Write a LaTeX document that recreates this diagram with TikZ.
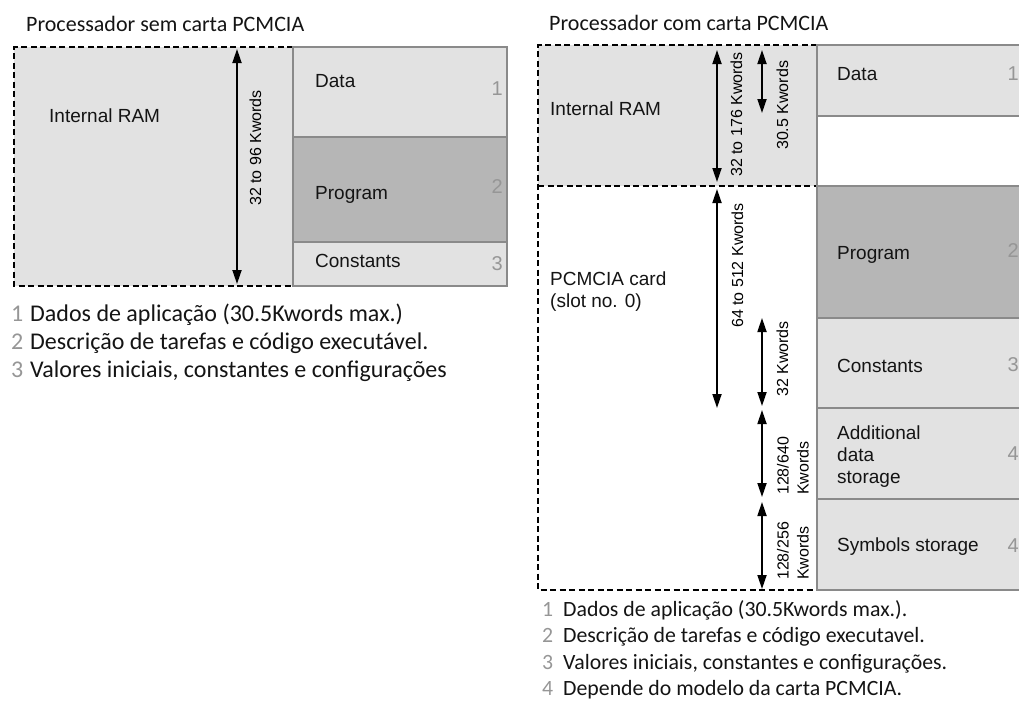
\documentclass[tikz,border=0pt]{standalone}
\usepackage{fontspec}
\setmainfont{Carlito}
\newfontfamily\arialfont{Liberation Sans}
\usetikzlibrary{arrows.meta}

\definecolor{lightmem}{RGB}{226,226,226}
\definecolor{darkmem}{RGB}{182,182,182}
\definecolor{memline}{RGB}{138,138,138}
\definecolor{numgray}{RGB}{150,150,150}
\definecolor{inktext}{RGB}{20,20,20}

\begin{document}
\begin{tikzpicture}[x=1pt, y=-1pt,
            mem/.style={draw=memline, line width=2pt, inner sep=0pt, outer sep=0pt, anchor=north west},
            ramarea/.style={draw=black, line width=1.8pt, dash pattern=on 6pt off 3.5pt},
            boxtext/.style={font=\arialfont\fontsize{19}{22}\selectfont, text=inktext, inner sep=0pt, anchor=base west, align=left},
            boxnum/.style={font=\arialfont\fontsize{20}{24}\selectfont, text=numgray, inner sep=0pt},
            sizetext/.style={font=\arialfont\fontsize{16}{20}\selectfont, inner sep=0pt, rotate=90, align=left},
            sizearrow/.style={{Triangle[width=9pt,length=14pt]}-{Triangle[width=9pt,length=14pt]}, line width=1.8pt},
            heading/.style={font=\fontsize{22}{26}\selectfont, text=inktext, inner sep=0pt, anchor=base west},
            legnum/.style={text=numgray, inner sep=0pt, anchor=base west},
            legtext/.style={text=inktext, inner sep=0pt, anchor=base west}]
            \useasboundingbox (0,0) rectangle (1019,702);
            \clip (0,0) rectangle (1019,702);

            % without PCMCIA card
            \node[heading] (titleA) at (26,31) {Processador sem carta PCMCIA};
            \node[mem, draw=none, fill=lightmem, minimum width=279pt, minimum height=239pt] (ramA) at (14,47) {};
            \draw[ramarea] (ramA.north east) -- (ramA.north west) -- (ramA.south west) -- (ramA.south east);
            \node[mem, fill=lightmem, minimum width=214pt, minimum height=90pt] (dataA) at (293,47) {};
            \node[mem, fill=darkmem, minimum width=214pt, minimum height=105pt] (progA) at (293,137) {};
            \node[mem, fill=lightmem, minimum width=214pt, minimum height=44pt] (constA) at (293,242) {};
            \node[boxtext] (ramtextA) at (49,122) {Internal RAM};
            \node[boxtext] (datatextA) at (315,87) {Data};
            \node[boxtext] (progtextA) at (315,199) {Program};
            \node[boxtext] (consttextA) at (315,267) {Constants};
            \node[boxnum, anchor=base east] (numA1) at (503,95) {1};
            \node[boxnum, anchor=base east] (numA2) at (503,193) {2};
            \node[boxnum, anchor=base east] (numA3) at (503,270) {3};
            \coordinate (sizeA1top) at (237,49);
            \coordinate (sizeA1bot) at (237,284);
            \draw[sizearrow] (sizeA1top) -- (sizeA1bot);
            \node[sizetext, anchor=base west] (sizetextA1) at (261,206) {32 to 96 Kwords};

            \begin{scope}[every node/.append style={font=\fontsize{24}{28}\selectfont}]
            \node[legnum] (legnumA1) at (11,321) {1};
            \node[legtext] (legA1) at (30,321) {Dados de aplicação (30.5Kwords max.)};
            \node[legnum] (legnumA2) at (11,349) {2};
            \node[legtext] (legA2) at (30,349) {Descrição de tarefas e código executável.};
            \node[legnum] (legnumA3) at (11,377) {3};
            \node[legtext] (legA3) at (30,377) {Valores iniciais, constantes e configurações};
            \end{scope}

            % with PCMCIA card
            \node[heading] (titleB) at (549,30) {Processador com carta PCMCIA};
            \node[mem, draw=none, fill=lightmem, minimum width=279pt, minimum height=141pt] (ramB) at (538,45) {};
            \node[mem, draw=none, fill=white, minimum width=279pt, minimum height=404pt] (cardB) at (538,186) {};
            \draw[ramarea] (ramB.north east) -- (ramB.north west) -- (cardB.south west) -- (cardB.south east);
            \draw[ramarea] (ramB.south west) -- (ramB.south east);
            \node[mem, fill=lightmem, minimum width=220pt, minimum height=71pt] (dataB) at (817,45) {};
            \node[mem, fill=white, minimum width=220pt, minimum height=70pt] (freeB) at (817,116) {};
            \node[mem, fill=darkmem, minimum width=220pt, minimum height=132pt] (progB) at (817,186) {};
            \node[mem, fill=lightmem, minimum width=220pt, minimum height=90pt] (constB) at (817,318) {};
            \node[mem, fill=lightmem, minimum width=220pt, minimum height=91pt] (addB) at (817,408) {};
            \node[mem, fill=lightmem, minimum width=220pt, minimum height=91pt] (symB) at (817,499) {};
            \node[boxtext] (ramtextB) at (550,115) {Internal RAM};
            \node[boxtext] (cardtextB) at (550,307) {PCMCIA card\\(slot no. 0)};
            \node[boxtext] (datatextB) at (837,80) {Data};
            \node[boxtext] (progtextB) at (837,259) {Program};
            \node[boxtext] (consttextB) at (837,372) {Constants};
            \node[boxtext] (addtextB) at (837,483) {Additional\\data\\storage};
            \node[boxtext] (symtextB) at (837,551) {Symbols storage};
            \node[boxnum, anchor=base east] (numB1) at (1019,80) {1};
            \node[boxnum, anchor=base east] (numB2) at (1019,257) {2};
            \node[boxnum, anchor=base east] (numB3) at (1019,371) {3};
            \node[boxnum, anchor=base east] (numB4) at (1019,460) {4};
            \node[boxnum, anchor=base east] (numB5) at (1019,552) {4};

            \coordinate (sizeB1top) at (717,50);
            \coordinate (sizeB1bot) at (717,182);
            \coordinate (sizeB2top) at (762,50);
            \coordinate (sizeB2bot) at (762,113);
            \coordinate (sizeB3top) at (717,189);
            \coordinate (sizeB3bot) at (717,408);
            \coordinate (sizeB4top) at (762,318);
            \coordinate (sizeB4bot) at (762,406);
            \coordinate (sizeB5top) at (762,410);
            \coordinate (sizeB5bot) at (762,497);
            \coordinate (sizeB6top) at (762,502);
            \coordinate (sizeB6bot) at (762,589);
            \draw[sizearrow] (sizeB1top) -- (sizeB1bot);
            \draw[sizearrow] (sizeB2top) -- (sizeB2bot);
            \draw[sizearrow] (sizeB3top) -- (sizeB3bot);
            \draw[sizearrow] (sizeB4top) -- (sizeB4bot);
            \draw[sizearrow] (sizeB5top) -- (sizeB5bot);
            \draw[sizearrow] (sizeB6top) -- (sizeB6bot);
            \node[sizetext, anchor=base west] (sizetextB1) at (742,177) {32 to 176 Kwords};
            \node[sizetext, anchor=base west] (sizetextB2) at (788,150) {30.5 Kwords};
            \node[sizetext, anchor=base west] (sizetextB3) at (743,328) {64 to 512 Kwords};
            \node[sizetext, anchor=base west] (sizetextB4) at (788,397) {32 Kwords};
            \node[sizetext, anchor=south west] (sizetextB5) at (809,495) {128/640\\Kwords};
            \node[sizetext, anchor=south west] (sizetextB6) at (809,580) {128/256\\Kwords};

            \begin{scope}[every node/.append style={font=\fontsize{21.8}{26}\selectfont}]
            \node[legnum] (legnumB1) at (542,616) {1};
            \node[legtext] (legB1) at (563,616) {Dados de aplicação (30.5Kwords max.).};
            \node[legnum] (legnumB2) at (542,642) {2};
            \node[legtext] (legB2) at (563,642) {Descrição de tarefas e código executavel.};
            \node[legnum] (legnumB3) at (542,669) {3};
            \node[legtext] (legB3) at (563,669) {Valores iniciais, constantes e configurações.};
            \node[legnum] (legnumB4) at (542,695) {4};
            \node[legtext] (legB4) at (563,695) {Depende do modelo da carta PCMCIA.};
            \end{scope}
        \end{tikzpicture}
\end{document}
